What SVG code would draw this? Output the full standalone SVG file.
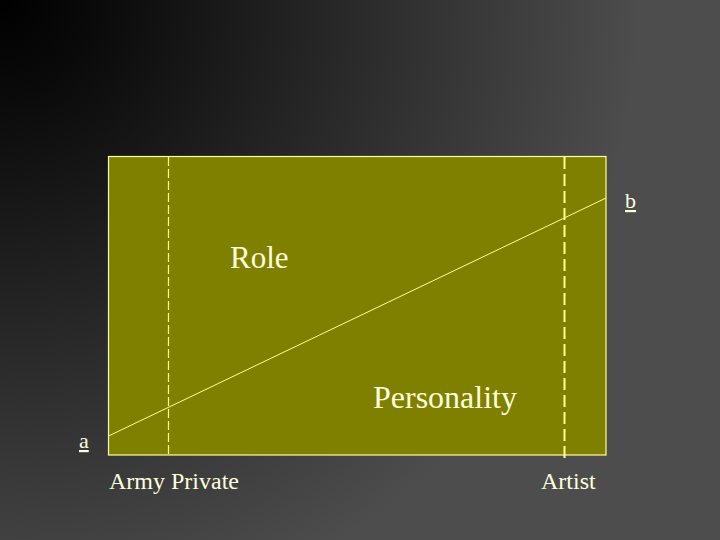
<svg xmlns="http://www.w3.org/2000/svg" width="720" height="540" viewBox="0 0 720 540">
<defs>
<radialGradient id="bg" cx="0" cy="0" r="640" gradientUnits="userSpaceOnUse">
<stop offset="0" stop-color="#000000"/>
<stop offset="0.15" stop-color="#0a0a0a"/>
<stop offset="1" stop-color="#4d4d4d"/>
</radialGradient>
<style>
.t{font-family:"Liberation Serif","Times New Roman",serif;fill:#ffffdd}
.ln{stroke:#ffff99;fill:none}
</style>
</defs>
<rect width="720" height="540" fill="url(#bg)"/>
<g id="box"><rect x="108.5" y="156.5" width="497.5" height="298.5" fill="#808000" stroke="#ffff99" stroke-width="1.2"/></g>
<g id="connectors">
<line class="ln" x1="168.5" y1="157" x2="168.5" y2="455" stroke-width="1.2" stroke-dasharray="9,3"/>
<line class="ln" x1="564.5" y1="157" x2="564.5" y2="462" stroke-width="2" stroke-dasharray="12,5"/>
<line class="ln" x1="108.5" y1="436" x2="606" y2="198" stroke-width="1"/>
</g>
<g id="role"><text class="t" x="230" y="268" font-size="31">Role</text></g>
<g id="personality"><text class="t" x="373" y="408" font-size="32">Personality</text></g>
<g id="b"><text class="t" x="625" y="208" font-size="22" text-decoration="underline">b</text></g>
<g id="a"><text class="t" x="79" y="448" font-size="22" text-decoration="underline">a</text></g>
<g id="army"><text class="t" x="109" y="489" font-size="24">Army Private</text></g>
<g id="artist"><text class="t" x="541" y="489" font-size="24">Artist</text></g>
</svg>
